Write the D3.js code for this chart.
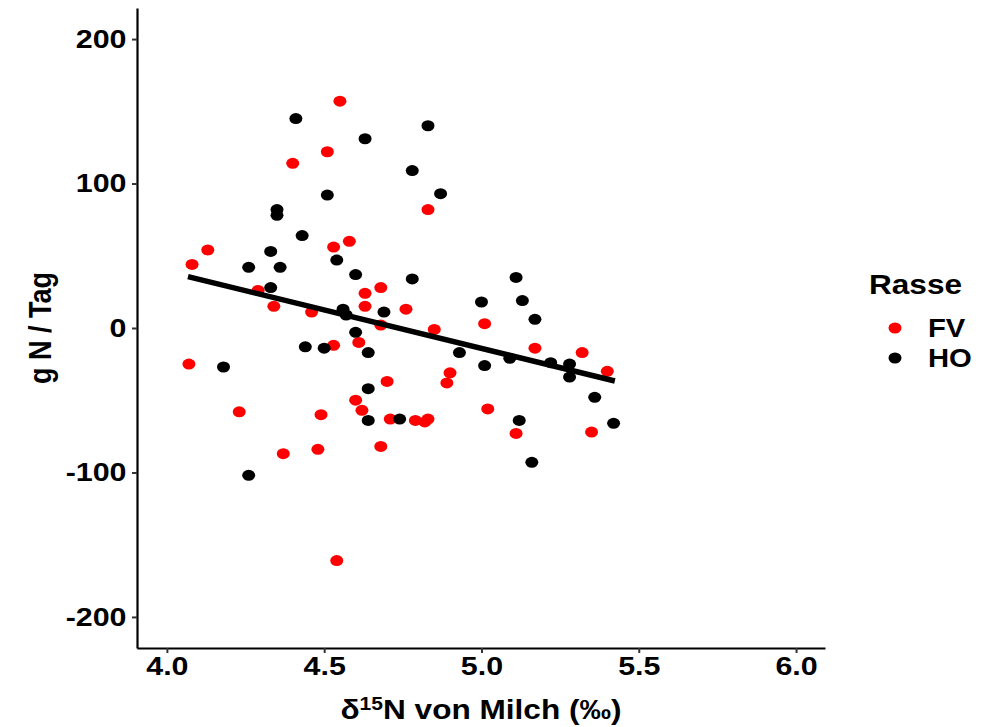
<!DOCTYPE html>
<html>
<head>
<meta charset="utf-8">
<script src="https://cdn.jsdelivr.net/npm/d3@7"></script>
<style>
  body { margin: 0; background: #fff; }
  text { font-family: "Liberation Sans", Arial, sans-serif; font-weight: bold; fill: #000; }
</style>
</head>
<body>
<div id="chart"></div>
<script>
var width = 1000, height = 727, stretch = 1.17;

// FV (red) points
var fvX = [4.55, 4.51, 4.40, 4.58, 4.53, 4.13, 4.08, 4.83, 4.29, 4.63, 4.68, 4.34, 4.63, 4.46,
  4.68, 4.61, 4.53, 4.07, 4.60, 4.62, 4.23, 4.49, 4.37, 4.48, 4.68, 4.76, 4.85, 5.01,
  5.17, 5.32, 5.40, 4.90, 4.89, 4.70, 4.71, 4.79, 4.82, 4.83, 5.02, 5.11, 5.35, 4.54];
var fvY = [157, 122, 114, 60, 56, 54, 44, 82, 26, 24, 28, 15, 15, 11,
  2, -10, -12, -25, -50, -57, -58, -60, -87, -84, -82, 13, -1, 3,
  -14, -17, -30, -31, -38, -37, -63, -64, -65, -63, -56, -73, -72, -161];

// HO (black) points
var hoX = [4.41, 4.63, 4.51, 4.35, 4.35, 4.43, 4.33, 4.54, 4.26, 4.36, 4.60, 4.83, 4.78, 4.87,
  4.78, 5.11, 4.33, 4.56, 4.57, 4.69, 4.60, 4.44, 4.50, 4.64, 4.18, 4.64, 4.64, 5.00,
  5.13, 5.17, 4.93, 5.09, 5.01, 5.22, 5.28, 5.28, 5.36, 4.74, 5.12, 5.16, 5.42, 4.26];
var hoY = [145, 131, 92, 82, 78, 64, 53, 47, 42, 42, 37, 140, 109, 93,
  34, 35, 28, 13, 9, 11, -3, -13, -14, -17, -27, -42, -64, 18,
  19, 6, -17, -21, -26, -24, -25, -34, -48, -63, -64, -93, -66, -102];

// linear fit
var fitX = [4.067, 5.424];
var fitY = [35.6, -36.7];

var xTicks = [4.0, 4.5, 5.0, 5.5, 6.0];
var yTicks = [-200, -100, 0, 100, 200];
var groups = ['FV', 'HO'];
var groupColors = ['#FF0000', '#000000'];

var svg = d3.select('#chart')
  .append('svg')
  .attr('width', width)
  .attr('height', height);

var xScale = d3.scaleLinear()
  .domain([3.905, 6.092])
  .range([137, 825]);

var yScale = d3.scaleLinear()
  .domain([-221.5, 221.5])
  .range([648, 8]);

var cScale = d3.scaleOrdinal()
  .domain(groups)
  .range(groupColors);

var points = [];
fvX.forEach(function (v, i) { points.push({ x: v, y: fvY[i], g: 'FV' }); });
hoX.forEach(function (v, i) { points.push({ x: v, y: hoY[i], g: 'HO' }); });

svg.selectAll('.dot')
  .data(points)
  .enter()
  .append('ellipse')
  .attr('class', 'dot')
  .attr('cx', function (d) { return xScale(d.x); })
  .attr('cy', function (d) { return yScale(d.y); })
  .attr('rx', 6.5)
  .attr('ry', 5.5)
  .attr('fill', function (d) { return cScale(d.g); });

var line = d3.line()
  .x(function (d) { return xScale(d[0]); })
  .y(function (d) { return yScale(d[1]); });

svg.append('path')
  .datum(fitX.map(function (v, i) { return [v, fitY[i]]; }))
  .attr('d', line)
  .attr('fill', 'none')
  .attr('stroke', '#000')
  .attr('stroke-width', 5.5);

// axes
var xAxis = d3.axisBottom(xScale)
  .tickValues(xTicks)
  .tickFormat(d3.format('.1f'))
  .tickSizeInner(5)
  .tickSizeOuter(0)
  .tickPadding(4);

var yAxis = d3.axisLeft(yScale)
  .tickValues(yTicks)
  .tickFormat(function (d) { return String(d); })
  .tickSizeInner(5)
  .tickSizeOuter(0)
  .tickPadding(4);

var xAxisG = svg.append('g')
  .attr('transform', 'translate(0,' + 648 + ')')
  .call(xAxis);

var yAxisG = svg.append('g')
  .attr('transform', 'translate(' + 137 + ',0)')
  .call(yAxis);

[xAxisG, yAxisG].forEach(function (g) {
  g.select('.domain').attr('stroke', '#000').attr('stroke-width', 2.2);
  g.selectAll('.tick line').attr('stroke', '#333').attr('stroke-width', 2);
  g.selectAll('.tick text')
    .attr('fill', '#000')
    .attr('transform', 'scale(' + stretch + ',1)')
    .style('font-family', '"Liberation Sans", Arial, sans-serif')
    .style('font-weight', 'bold')
    .style('font-size', '26px');
});

// axis titles
var xTitle = svg.append('text')
  .attr('transform', 'translate(' + 481 + ',' + 719 + ') scale(' + stretch + ',1)')
  .attr('text-anchor', 'middle')
  .style('font-size', '27px');
xTitle.append('tspan').text('δ');
xTitle.append('tspan').attr('dy', -9).style('font-size', '18px').text('15');
xTitle.append('tspan').attr('dy', 9).text('N von Milch (‰)');

svg.append('text')
  .attr('transform', 'translate(' + 51 + ',' + 328 + ') scale(' + stretch + ',1) rotate(-90)')
  .attr('text-anchor', 'middle')
  .style('font-size', '27px')
  .text('g N / Tag');

// legend
svg.append('text')
  .attr('transform', 'translate(' + 869 + ',' + 294 + ') scale(' + stretch + ',1)')
  .style('font-size', '27px')
  .text('Rasse');

var legend = svg.selectAll('.key')
  .data(groups)
  .enter()
  .append('g')
  .attr('class', 'key')
  .attr('transform', function (d, i) { return 'translate(895,' + (328 + i * 30) + ')'; });

legend.append('ellipse')
  .attr('rx', 6.5)
  .attr('ry', 5.5)
  .attr('fill', function (d) { return cScale(d); });

legend.append('text')
  .attr('transform', 'translate(33,9) scale(' + stretch + ',1)')
  .style('font-size', '25px')
  .text(function (d) { return d; });
</script>
</body>
</html>
